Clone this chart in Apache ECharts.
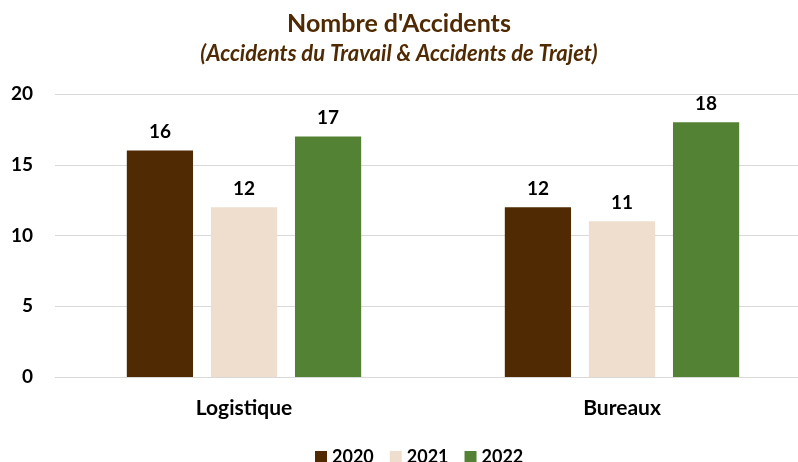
<!DOCTYPE html>
<html>
<head>
<meta charset="utf-8">
<script src="https://cdn.jsdelivr.net/npm/echarts@6/dist/echarts.min.js"></script>
<style>
html,body{margin:0;padding:0;background:#fff;}
#main{width:798px;height:462px;}
</style>
</head>
<body>
<div id="main"></div>
<script>
// data
var categories = ['Logistique', 'Bureaux'];
var years = ['2020', '2021', '2022'];
var v2020 = [16, 12];
var v2021 = [12, 11];
var v2022 = [17, 18];
var yTicks = [0, 5, 10, 15, 20];

var colors = ['#4f2a03', '#efdece', '#548235'];
var font = 'Lato, "Open Sans", sans-serif';

var chart = echarts.init(document.getElementById('main'));

function mkSeries(name, data, i) {
    return {
        name: name,
        type: 'bar',
        data: data,
        barGap: '27%',
        barCategoryGap: '38%',
        itemStyle: {color: colors[i]},
        label: {
            show: true,
            position: 'top',
            distance: 9,
            color: '#000',
            fontFamily: font,
            fontWeight: 'bold',
            fontSize: 19
        }
    };
}

chart.setOption({
    animation: false,
    textStyle: {fontFamily: font},
    title: {
        text: "Nombre d'Accidents",
        subtext: '(Accidents du Travail & Accidents de Trajet)',
        left: 'center',
        top: 6,
        itemGap: 7,
        textStyle: {
            fontFamily: font,
            fontSize: 25,
            fontWeight: 'bold',
            color: '#4f2a03'
        },
        subtextStyle: {
            fontFamily: font,
            fontSize: 22,
            fontWeight: 'bold',
            fontStyle: 'italic',
            color: '#4f2a03'
        }
    },
    legend: {
        data: years,
        left: 310,
        bottom: -9,
        itemWidth: 12,
        itemHeight: 12,
        itemGap: 16,
        icon: 'rect',
        textStyle: {
            fontFamily: font,
            fontSize: 18,
            fontWeight: 'bold',
            color: '#000'
        }
    },
    grid: {
        left: 55,
        right: -13,
        top: 94,
        bottom: 85,
        containLabel: false,
        outerBoundsMode: 'none'
    },
    xAxis: {
        type: 'category',
        data: categories,
        axisTick: {show: false},
        axisLine: {lineStyle: {color: '#d9d9d9', width: 1}},
        axisLabel: {
            margin: 21,
            color: '#000',
            fontFamily: font,
            fontWeight: 'bold',
            fontSize: 21
        }
    },
    yAxis: {
        type: 'value',
        min: yTicks[0],
        max: yTicks[yTicks.length - 1],
        interval: 5,
        axisLine: {show: false},
        axisTick: {show: false},
        splitLine: {lineStyle: {color: '#d9d9d9', width: 1}},
        axisLabel: {
            margin: 22,
            color: '#000',
            fontFamily: font,
            fontWeight: 'bold',
            fontSize: 19
        }
    },
    series: [
        mkSeries(years[0], v2020, 0),
        mkSeries(years[1], v2021, 1),
        mkSeries(years[2], v2022, 2)
    ]
});
</script>
</body>
</html>
